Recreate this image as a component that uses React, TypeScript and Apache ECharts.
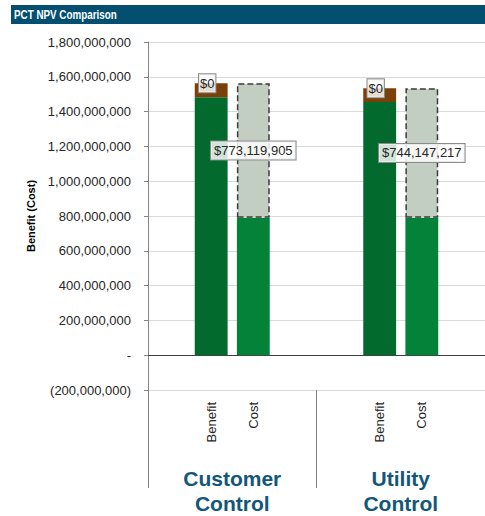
import React, { useEffect, useRef } from "react";
import * as echarts from "echarts";

const chartTitle = "PCT NPV Comparison";
const slotLabels = ["", "Benefit", "Cost", "", "", "Benefit", "Cost", ""];
const groupLabels = ["Customer\nControl", "Utility\nControl"];
const yTicks = { min: -200000000, max: 1800000000, interval: 200000000 };

const benefitBase = [null, 1483000000, null, null, null, 1455000000, null, null];
const benefitOther = [null, 80000000, null, null, null, 79000000, null, null];
const benefitTopLabel = [null, 0, null, null, null, 0, null, null];
const costBase = [null, null, 790000000, null, null, null, 790000000, null];
const npvGap = [null, null, 773119905, null, null, null, 744147217, null];

const money = (v: number) => "$" + Math.round(v).toLocaleString("en-US");

export default function App() {
  const ref = useRef<HTMLDivElement>(null);
  useEffect(() => {
    document.body.style.margin = "0";
    const chart = echarts.init(ref.current!, null, { renderer: "svg" });
    const labelBox = {
      show: true,
      position: "inside",
      formatter: (p: any) => money(p.value),
      color: "#262626",
      fontFamily: "Liberation Sans",
      fontSize: 13,
      backgroundColor: "rgba(255,255,255,0.82)",
      borderColor: "#8c8c8c",
      borderWidth: 1,
    };
    chart.setOption({
      animation: false,
      graphic: [
        { type: "rect", shape: { x: 11, y: 5, width: 474, height: 19 }, style: { fill: "#044f6f" }, z: 0 },
        {
          type: "text",
          x: 14,
          y: 14.5,
          scaleX: 0.82,
          z: 1,
          style: {
            text: chartTitle,
            fill: "#ffffff",
            font: "bold 12px 'Liberation Sans'",
            textVerticalAlign: "middle",
            verticalAlign: "middle",
          },
        },
      ],
      grid: { left: 148, width: 342, top: 42, bottom: 122, containLabel: false },
      xAxis: [
        {
          type: "category",
          data: slotLabels,
          axisLine: { onZero: true, lineStyle: { color: "#404040", width: 1 } },
          axisTick: { show: false },
          axisLabel: { show: false },
        },
        {
          type: "category",
          data: slotLabels,
          position: "bottom",
          offset: 0,
          axisLine: { show: false, onZero: false },
          axisTick: { show: false },
          axisLabel: {
            interval: 0,
            rotate: 90,
            margin: 12,
            color: "#262626",
            fontFamily: "Liberation Sans",
            fontSize: 13,
          },
        },
        {
          type: "category",
          data: groupLabels,
          position: "bottom",
          offset: 98,
          axisLine: { show: false, onZero: false },
          axisTick: { show: true, inside: true, length: 98, interval: 0, lineStyle: { color: "#7f7f7f" } },
          axisLabel: {
            interval: 0,
            margin: -22,
            color: "#12577a",
            fontFamily: "Liberation Sans",
            fontWeight: "bold",
            fontSize: 21,
            lineHeight: 25,
          },
        },
      ],
      yAxis: {
        type: "value",
        min: yTicks.min,
        max: yTicks.max,
        interval: yTicks.interval,
        name: "Benefit (Cost)",
        nameLocation: "middle",
        nameGap: 111,
        nameRotate: 90,
        nameTextStyle: { color: "#000", fontFamily: "Liberation Sans", fontWeight: "bold", fontSize: 11 },
        axisLine: { show: true, lineStyle: { color: "#868686" } },
        axisTick: { show: true, length: 4, lineStyle: { color: "#868686" } },
        splitLine: { show: true, lineStyle: { color: "#d9d9d9" } },
        axisLabel: {
          margin: 17,
          color: "#262626",
          fontFamily: "Liberation Sans",
          fontSize: 13,
          formatter: (v: number) =>
            v === 0 ? "-" : v < 0 ? "(" + Math.abs(v).toLocaleString("en-US") + ")" : v.toLocaleString("en-US"),
        },
      },
      series: [
        {
          type: "bar", stack: "t", xAxisIndex: 0, data: benefitBase, barCategoryGap: "22%",
          itemStyle: { color: "#036a2e" },
        },
        {
          type: "bar", stack: "t", xAxisIndex: 0, data: costBase,
          itemStyle: { color: "#05823a" },
        },
        {
          type: "bar", stack: "t", xAxisIndex: 0, data: benefitOther,
          itemStyle: { color: "#7b3f08" },
        },
        {
          type: "bar", stack: "t", xAxisIndex: 0, data: benefitTopLabel,
          itemStyle: { color: "transparent" },
          label: { ...labelBox, padding: [3, 1, 2, 1], offset: [-4, 0] },
          z: 5,
        },
        {
          type: "bar", stack: "t", xAxisIndex: 0, data: npvGap,
          itemStyle: { color: "#c2cec2", borderColor: "#3a3a3a", borderWidth: 1.5, borderType: [6, 3] },
          label: { ...labelBox, padding: [3, 3, 2, 3] },
          z: 4,
        },
      ],
    });
    return () => chart.dispose();
  }, []);
  return <div ref={ref} style={{ width: 485, height: 516 }} />;
}
